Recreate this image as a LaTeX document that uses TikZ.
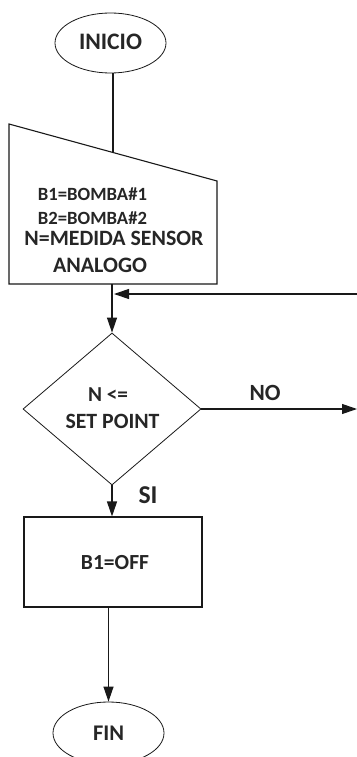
\documentclass[tikz,border=0pt]{standalone}
\usepackage{fontspec}
\usepackage{graphicx}
\setmainfont{Carlito}
\usetikzlibrary{shapes.geometric,arrows.meta,calc}
\newcommand\fitw[2]{\resizebox{#1pt}{!}{#2}}
\begin{document}
\begin{tikzpicture}[x=1pt,y=-1pt,
  line width=1.1pt, draw=black!90,
  arr/.style={-{Triangle[length=15pt,width=10pt]}},
  lbl/.style={font=\bfseries\fontsize{22}{24}\selectfont, text=black!85, inner sep=0pt, anchor=base},
  term/.style={ellipse, draw, line width=0.8pt, inner sep=0pt, minimum width=111pt, minimum height=60pt},
  proc/.style={rectangle, draw, minimum width=178pt, minimum height=90pt, inner sep=0pt},
  dec/.style={diamond, draw, line width=0.8pt, minimum width=178pt, minimum height=152pt, inner sep=0pt}]
\useasboundingbox (0,0) rectangle (356,757);
\fill[white] (0,0) rectangle (356,757);

% start
\node[term] (ini) at (110.5,43) {};
\node[lbl] (tini) at (110.5,50) {\fitw{63}{INICIO}};

% manual input
\coordinate (tl) at (9,124);
\coordinate (tr) at (217,181);
\coordinate (br) at (217,284);
\coordinate (bl) at (9,284);
\draw (tl) -- (tr) -- (br) -- (bl) -- cycle;
\coordinate (intop) at (113,153);
\coordinate (inbot) at (112,284);
\node[lbl] (t1) at (92.5,200) {\fitw{109}{B1=BOMBA\#1}};
\node[lbl] (t2) at (92.5,224) {\fitw{109}{B2=BOMBA\#2}};
\node[lbl] (t3) at (114,245) {\fitw{179}{N=MEDIDA SENSOR}};
\node[lbl] (t4) at (100,272) {\fitw{94}{ANALOGO}};

\draw (ini.south -| intop) -- (intop);

% decision
\node[dec] (dec) at (112,409) {};
\node[lbl] (d1) at (108,401) {\fitw{40}{N <=}};
\node[lbl] (d2) at (112.5,428) {\fitw{94}{SET POINT}};
\draw[arr] (inbot) -- (dec.north);

% loop back
\coordinate (loopR) at (357,294);
\coordinate (loopL) at (114,294);
\draw[arr] (loopR) -- (loopL);

% NO branch
\coordinate (noR) at (357,409);
\draw[arr] (dec.east) -- (noR);
\node[lbl] (no) at (265,400) {\fitw{31}{NO}};

% process
\node[proc] (box) at (113,562) {};
\node[lbl] (tb) at (115,569) {\fitw{68}{B1=OFF}};
\draw[arr] (dec.south) -- (box.north -| dec.south);
\node[lbl] (si) at (148,503) {\fitw{19}{SI}};

% end
\node[term, minimum height=62pt] (fin) at (108.5,733) {};
\node[lbl] (tfin) at (108.5,740) {\fitw{31}{FIN}};
\draw[arr] (box.south -| fin.north) -- (fin.north);
\end{tikzpicture}
\end{document}
